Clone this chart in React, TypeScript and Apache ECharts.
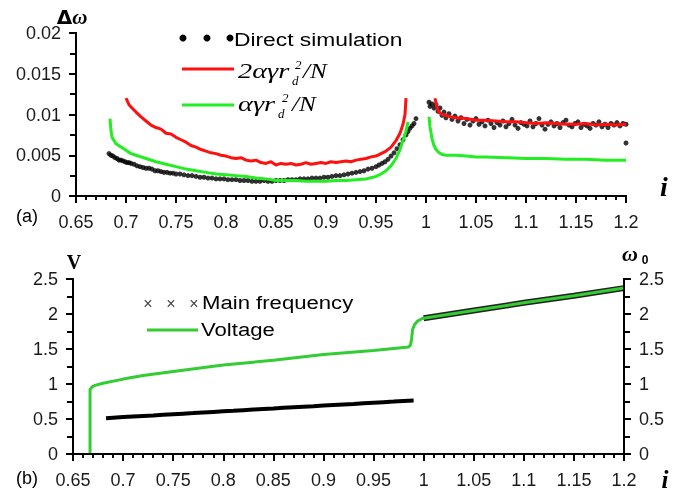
import React, { useEffect, useRef } from "react";
import * as echarts from "echarts";

// ---- Panel (a) data ----
const simLeft: [number, number][] = [
  [0.683, 0.0052], [0.685, 0.0050], [0.687, 0.0049], [0.689, 0.0047], [0.691, 0.0046], [0.693, 0.0044],
  [0.695, 0.0044], [0.697, 0.0043], [0.699, 0.0042], [0.701, 0.0041], [0.703, 0.0041], [0.705, 0.0040],
  [0.708, 0.0039], [0.711, 0.0037], [0.714, 0.0036], [0.717, 0.0035], [0.72, 0.0034], [0.723, 0.0034],
  [0.726, 0.0033], [0.729, 0.0031], [0.732, 0.0031], [0.735, 0.0030], [0.738, 0.0029], [0.741, 0.0029],
  [0.744, 0.0028], [0.747, 0.0028], [0.75, 0.0027], [0.754, 0.0027], [0.758, 0.0026], [0.762, 0.0025],
  [0.766, 0.0025], [0.77, 0.0024], [0.774, 0.0023], [0.778, 0.0023], [0.782, 0.0022], [0.786, 0.0022],
  [0.79, 0.0021], [0.794, 0.0021], [0.798, 0.0021], [0.802, 0.0020], [0.806, 0.0020], [0.81, 0.0020],
  [0.814, 0.0019], [0.818, 0.0019], [0.822, 0.0019], [0.826, 0.0018], [0.83, 0.0018], [0.834, 0.0018],
  [0.838, 0.0019], [0.842, 0.0018], [0.846, 0.0018], [0.85, 0.0019], [0.854, 0.0019], [0.858, 0.0019],
  [0.862, 0.0020], [0.866, 0.0020], [0.87, 0.0020], [0.874, 0.0021], [0.878, 0.0021], [0.882, 0.0021],
  [0.886, 0.0022], [0.89, 0.0022], [0.894, 0.0022], [0.898, 0.0023], [0.902, 0.0023], [0.906, 0.0024],
  [0.91, 0.0025], [0.914, 0.0025], [0.918, 0.0026], [0.922, 0.0027], [0.926, 0.0028], [0.93, 0.0029],
  [0.934, 0.0030], [0.938, 0.0031], [0.942, 0.0033], [0.946, 0.0034], [0.95, 0.0036], [0.953, 0.0038],
  [0.956, 0.0040], [0.959, 0.0042], [0.962, 0.0045], [0.965, 0.0049], [0.968, 0.0053], [0.971, 0.0058],
  [0.974, 0.0063], [0.977, 0.0069], [0.98, 0.0075], [0.982, 0.0079], [0.984, 0.0083], [0.986, 0.0086],
  [0.988, 0.0089], [0.99, 0.0095],
];
const simRight: [number, number][] = [
  [1.003, 0.0115], [1.004, 0.0110], [1.006, 0.0113], [1.008, 0.0108], [1.01, 0.0112], [1.012, 0.0104],
  [1.014, 0.0108], [1.016, 0.0099], [1.018, 0.0103], [1.02, 0.0096], [1.023, 0.0101], [1.026, 0.0094],
  [1.029, 0.0098], [1.032, 0.0092], [1.035, 0.0096], [1.038, 0.0089], [1.041, 0.0094], [1.044, 0.0087],
  [1.047, 0.0092], [1.05, 0.0095], [1.053, 0.0088], [1.056, 0.0091], [1.059, 0.0086], [1.062, 0.0093],
  [1.065, 0.0089], [1.068, 0.0084], [1.071, 0.0090], [1.074, 0.0087], [1.077, 0.0092], [1.08, 0.0085],
  [1.083, 0.0089], [1.086, 0.0094], [1.089, 0.0087], [1.092, 0.0083], [1.095, 0.0090], [1.098, 0.0088],
  [1.101, 0.0086], [1.104, 0.0092], [1.107, 0.0085], [1.11, 0.0089], [1.113, 0.0095], [1.116, 0.0087],
  [1.119, 0.0082], [1.122, 0.0088], [1.125, 0.0091], [1.128, 0.0086], [1.131, 0.0089], [1.134, 0.0084],
  [1.137, 0.0090], [1.14, 0.0093], [1.143, 0.0087], [1.146, 0.0085], [1.149, 0.0089], [1.152, 0.0091],
  [1.155, 0.0084], [1.158, 0.0088], [1.161, 0.0086], [1.164, 0.0083], [1.167, 0.0089], [1.17, 0.0087],
  [1.173, 0.0091], [1.176, 0.0085], [1.179, 0.0088], [1.182, 0.0084], [1.185, 0.0089], [1.188, 0.0087],
  [1.191, 0.0090], [1.194, 0.0086], [1.197, 0.0089], [1.2, 0.0088], [1.2, 0.0065],
];
const redLeft: [number, number][] = [
  [0.7, 0.0120], [0.703, 0.0112], [0.706, 0.0108], [0.71, 0.0103], [0.715, 0.0097], [0.72, 0.0092],
  [0.725, 0.0087], [0.73, 0.0084], [0.735, 0.0082], [0.74, 0.0077], [0.745, 0.0076], [0.75, 0.0072],
  [0.755, 0.0069], [0.76, 0.0066], [0.765, 0.0062], [0.77, 0.0060], [0.775, 0.0057], [0.78, 0.0055],
  [0.785, 0.0053], [0.79, 0.0052], [0.795, 0.0050], [0.8, 0.0049], [0.805, 0.0047], [0.81, 0.0046],
  [0.815, 0.0047], [0.82, 0.0044], [0.825, 0.0043], [0.83, 0.0044], [0.835, 0.0041], [0.84, 0.0040],
  [0.845, 0.0042], [0.85, 0.0038], [0.855, 0.0040], [0.86, 0.0039], [0.865, 0.0040], [0.87, 0.0038],
  [0.875, 0.0039], [0.88, 0.0041], [0.885, 0.0039], [0.89, 0.0040], [0.895, 0.0041], [0.9, 0.0040],
  [0.905, 0.0042], [0.91, 0.0041], [0.915, 0.0042], [0.92, 0.0043], [0.925, 0.0042], [0.93, 0.0044],
  [0.935, 0.0045], [0.94, 0.0046], [0.945, 0.0048], [0.95, 0.0049], [0.955, 0.0052], [0.96, 0.0055],
  [0.965, 0.0060], [0.97, 0.0068], [0.974, 0.0077], [0.977, 0.0088], [0.979, 0.0100], [0.98, 0.0120],
];
const redRight: [number, number][] = [
  [1.009, 0.0120], [1.011, 0.0108], [1.013, 0.0103], [1.016, 0.0100], [1.02, 0.0099], [1.025, 0.0097],
  [1.03, 0.0096], [1.04, 0.0095], [1.05, 0.0093], [1.06, 0.0093], [1.07, 0.0092], [1.08, 0.0091],
  [1.09, 0.0091], [1.1, 0.0090], [1.11, 0.0089], [1.12, 0.0090], [1.13, 0.0089], [1.14, 0.0088],
  [1.15, 0.0088], [1.16, 0.0089], [1.17, 0.0087], [1.18, 0.0088], [1.19, 0.0087], [1.2, 0.0088],
];
const greenLeft: [number, number][] = [
  [0.684, 0.0095], [0.685, 0.0080], [0.686, 0.0072], [0.688, 0.0068], [0.69, 0.0064], [0.695, 0.0060],
  [0.7, 0.0056], [0.705, 0.0052], [0.71, 0.0050], [0.715, 0.0048], [0.72, 0.0046], [0.73, 0.0042],
  [0.74, 0.0039], [0.75, 0.0036], [0.76, 0.0033], [0.77, 0.0031], [0.78, 0.0029], [0.79, 0.0027],
  [0.8, 0.0026], [0.81, 0.0025], [0.82, 0.0024], [0.83, 0.0022], [0.84, 0.0021], [0.85, 0.0019],
  [0.86, 0.0019], [0.87, 0.0019], [0.88, 0.0018], [0.89, 0.0018], [0.9, 0.0018], [0.91, 0.0019],
  [0.92, 0.0019], [0.93, 0.0020], [0.94, 0.0021], [0.95, 0.0024], [0.955, 0.0027], [0.96, 0.0031],
  [0.965, 0.0037], [0.97, 0.0046], [0.974, 0.0057], [0.977, 0.0068], [0.98, 0.0080], [0.982, 0.0091],
];
const greenRight: [number, number][] = [
  [1.003, 0.0097], [1.004, 0.0085], [1.006, 0.0070], [1.008, 0.0062], [1.01, 0.0057], [1.013, 0.0053],
  [1.016, 0.0051], [1.02, 0.0050], [1.03, 0.0050], [1.04, 0.0049], [1.05, 0.0048], [1.06, 0.0048],
  [1.08, 0.0047], [1.1, 0.0046], [1.12, 0.0046], [1.14, 0.0045], [1.16, 0.0045], [1.18, 0.0044],
  [1.2, 0.0044],
];

// ---- Panel (b) data ----
const voltage: [number, number][] = [
  [0.667, 0], [0.667, 0.92], [0.669, 0.96], [0.672, 0.98], [0.68, 1.01], [0.7, 1.07], [0.72, 1.12],
  [0.75, 1.18], [0.8, 1.27], [0.85, 1.34], [0.9, 1.42], [0.95, 1.48], [0.985, 1.53], [0.987, 1.56],
  [0.988, 1.65], [0.989, 1.78], [0.991, 1.85], [0.994, 1.9], [0.998, 1.93], [1.0, 1.94], [1.05, 2.05],
  [1.1, 2.16], [1.15, 2.26], [1.2, 2.37],
];
const freqLeft: [number, number][] = [
  [0.683, 0.51], [0.69, 0.518], [0.7, 0.527], [0.71, 0.535], [0.72, 0.543], [0.73, 0.551], [0.74, 0.56],
  [0.75, 0.568], [0.76, 0.576], [0.77, 0.584], [0.78, 0.593], [0.79, 0.601], [0.8, 0.609], [0.81, 0.617],
  [0.82, 0.626], [0.83, 0.634], [0.84, 0.642], [0.85, 0.65], [0.86, 0.659], [0.87, 0.667], [0.88, 0.675],
  [0.89, 0.683], [0.9, 0.692], [0.91, 0.7], [0.92, 0.708], [0.93, 0.716], [0.94, 0.725], [0.95, 0.733],
  [0.96, 0.741], [0.97, 0.749], [0.98, 0.758], [0.99, 0.766],
];
const freqRight: [number, number][] = [
  [1.0, 1.94], [1.05, 2.05], [1.1, 2.16], [1.15, 2.26], [1.2, 2.37],
];

// ---- tick values ----
const xTickVals = [0.65, 0.7, 0.75, 0.8, 0.85, 0.9, 0.95, 1, 1.05, 1.1, 1.15, 1.2];
const yTickValsA = [0, 0.005, 0.01, 0.015, 0.02];
const yTickValsB = [0, 0.5, 1, 1.5, 2, 2.5];

const GRID_A = { left: 76, top: 33, width: 550, height: 163 };
const GRID_B = { left: 73, top: 279, width: 551, height: 175 };

const LABEL_FONT = "Liberation Sans";

function xAxisCfg(gridIndex: number) {
  return {
    type: "value",
    gridIndex,
    z: 10,
    min: xTickVals[0],
    max: xTickVals[xTickVals.length - 1],
    interval: 0.05,
    axisLine: { show: true, onZero: false, lineStyle: { color: "#000", width: 2 } },
    axisTick: { show: true, inside: false, length: 7, lineStyle: { color: "#000", width: 2 } },
    minorTick: { show: true, splitNumber: 5, length: 4, lineStyle: { color: "#000", width: 1.5 } },
    splitLine: { show: false },
    axisLabel: { margin: 17, fontSize: 18, fontFamily: LABEL_FONT, color: "#1a1a1a" },
  };
}

function yAxisCfg(gridIndex: number, ticks: number[], position: string) {
  return {
    type: "value",
    gridIndex,
    position,
    z: 10,
    min: ticks[0],
    max: ticks[ticks.length - 1],
    interval: ticks[1] - ticks[0],
    axisLine: { show: true, onZero: false, lineStyle: { color: "#000", width: 2 } },
    axisTick: { show: true, inside: false, length: 7, lineStyle: { color: "#000", width: 2 } },
    minorTick: { show: true, splitNumber: 2, length: 6, lineStyle: { color: "#000", width: 2 } },
    splitLine: { show: false },
    axisLabel: { margin: 15, fontSize: 18, fontFamily: LABEL_FONT, color: "#1a1a1a" },
  };
}

// Axis frame and ticks as segments in data space (drawn through the axes' own scales)
function frameSegments(ys: number[], grid: { width: number; height: number }, right: boolean) {
  const xmin = xTickVals[0];
  const xmax = xTickVals[xTickVals.length - 1];
  const ymin = ys[0];
  const ymax = ys[ys.length - 1];
  const dx = (xmax - xmin) / grid.width;
  const dy = (ymax - ymin) / grid.height;
  const segs: any[] = [];
  const S = (x1: number, y1: number, x2: number, y2: number, w: number) =>
    segs.push({ coords: [[x1, y1], [x2, y2]], lineStyle: { width: w, color: "#000" } });
  S(xmin - dx, ymin, xmax + dx, ymin, 2);
  S(xmin, ymin, xmin, ymax + dy, 2);
  if (right) S(xmax, ymin, xmax, ymax + dy, 2);
  xTickVals.forEach((v, i) => {
    S(v, ymin, v, ymin - 7 * dy, 2);
    if (i < xTickVals.length - 1) {
      const step = (xTickVals[i + 1] - v) / 5;
      for (let k = 1; k < 5; k++) S(v + k * step, ymin, v + k * step, ymin - 4 * dy, 1.5);
    }
  });
  ys.forEach((v, i) => {
    S(xmin - 7 * dx, v, xmin, v, 2);
    if (right) S(xmax, v, xmax + 7 * dx, v, 2);
    if (i < ys.length - 1) {
      const m = (v + ys[i + 1]) / 2;
      S(xmin - 6 * dx, m, xmin, m, 2);
      if (right) S(xmax, m, xmax + 6 * dx, m, 2);
    }
  });
  return segs;
}

function txt(text: string, x: number, y: number, font: string, opts: any = {}) {
  return {
    type: "text",
    x,
    y,
    scaleX: opts.scaleX ?? 1,
    style: {
      text,
      font,
      fill: opts.fill ?? "#000",
      textAlign: opts.align ?? "left",
      textVerticalAlign: "middle",
    },
  };
}

export default function App() {
  const ref = useRef<HTMLDivElement>(null);
  useEffect(() => {
    if (!ref.current) return;
    const chart = echarts.init(ref.current, null, { renderer: "svg" });
    const serifB = "bold 20px 'Liberation Serif', 'DejaVu Serif', serif";
    const mathF = "italic 21px 'Liberation Serif', 'DejaVu Serif', serif";
    const mathS = "italic 13px 'Liberation Serif', 'DejaVu Serif', serif";
    const legF = "19px 'Liberation Sans', Arial, sans-serif";
    const legF2 = "18px 'Liberation Sans', Arial, sans-serif";

    const graphics: any[] = [
      {
        type: "text",
        x: 72,
        y: 17,
        style: {
          text: "{a|Δ}{b|ω}",
          textAlign: "center",
          textVerticalAlign: "middle",
          rich: {
            a: { font: "bold 20px 'DejaVu Sans', sans-serif", fill: "#000" },
            b: { font: "bold italic 21px 'Liberation Serif', serif", fill: "#000" },
          },
        },
      },
      txt("i", 664, 186, "bold italic 28px 'Liberation Serif', serif", { align: "center" }),
      txt("(a)", 27, 216, "18px 'Liberation Sans', Arial, sans-serif", { align: "center" }),
      { type: "circle", shape: { cx: 183, cy: 38, r: 3.5 }, style: { fill: "#000" } },
      { type: "circle", shape: { cx: 207, cy: 38, r: 3.5 }, style: { fill: "#000" } },
      { type: "circle", shape: { cx: 230, cy: 38, r: 3.5 }, style: { fill: "#000" } },
      txt("Direct simulation", 234, 39, legF, { scaleX: 1.2 }),
      { type: "line", shape: { x1: 182, y1: 69, x2: 234, y2: 69 }, style: { stroke: "#ff1010", lineWidth: 3 } },
      txt("2αγr", 238, 71, mathF, { scaleX: 1.35 }),
      txt("d", 292, 80, mathS),
      txt("2", 295, 64, mathS),
      txt("/N", 303, 71, mathF, { scaleX: 1.2 }),
      { type: "line", shape: { x1: 182, y1: 105, x2: 234, y2: 105 }, style: { stroke: "#22ee22", lineWidth: 3 } },
      txt("αγr", 238, 104, mathF, { scaleX: 1.35 }),
      txt("d", 278, 113, mathS),
      txt("2", 282, 97, mathS),
      txt("/N", 292, 104, mathF, { scaleX: 1.2 }),
      txt("V", 74, 262, serifB, { align: "center" }),
      txt("ω", 630, 253, "bold italic 22px 'Liberation Serif', serif", { align: "center" }),
      txt("0", 645, 260, "bold 12px 'Liberation Sans', Arial, sans-serif", { align: "center" }),
      txt("i", 665, 479, "bold italic 25px 'Liberation Serif', serif", { align: "center" }),
      txt("(b)", 27, 478, "18px 'Liberation Sans', Arial, sans-serif", { align: "center" }),
      txt("×", 148, 303, "16px 'Liberation Sans', Arial, sans-serif", { fill: "#444", align: "center" }),
      txt("×", 171, 303, "16px 'Liberation Sans', Arial, sans-serif", { fill: "#444", align: "center" }),
      txt("×", 194, 303, "16px 'Liberation Sans', Arial, sans-serif", { fill: "#444", align: "center" }),
      txt("Main frequency", 202, 303, legF2, { scaleX: 1.23 }),
      { type: "line", shape: { x1: 147, y1: 330, x2: 198, y2: 330 }, style: { stroke: "#33cc33", lineWidth: 3 } },
      txt("Voltage", 201, 330, legF2, { scaleX: 1.23 }),
    ];

    const option: any = {
      animation: false,
      grid: [GRID_A, GRID_B],
      xAxis: [xAxisCfg(0), xAxisCfg(1)],
      yAxis: [
        yAxisCfg(0, yTickValsA, "left"),
        yAxisCfg(1, yTickValsB, "left"),
        yAxisCfg(1, yTickValsB, "right"),
      ],
      series: [
        {
          name: "Direct simulation",
          type: "scatter",
          xAxisIndex: 0,
          yAxisIndex: 0,
          data: [...simLeft, ...simRight],
          symbol: "circle",
          symbolSize: 5,
          itemStyle: { color: "#000" },
        },
        ...[redLeft, redRight].map((d) => ({
          type: "line",
          xAxisIndex: 0,
          yAxisIndex: 0,
          data: d,
          showSymbol: false,
          lineStyle: { color: "#ff1010", width: 3 },
        })),
        ...[greenLeft, greenRight].map((d) => ({
          type: "line",
          xAxisIndex: 0,
          yAxisIndex: 0,
          data: d,
          showSymbol: false,
          lineStyle: { color: "#22ee22", width: 3 },
        })),
        {
          name: "Main frequency",
          type: "line",
          xAxisIndex: 1,
          yAxisIndex: 2,
          data: freqRight,
          showSymbol: false,
          lineStyle: { color: "#222", width: 6 },
        },
        {
          name: "Voltage",
          type: "line",
          xAxisIndex: 1,
          yAxisIndex: 1,
          data: voltage,
          showSymbol: false,
          lineStyle: { color: "#33cc33", width: 3 },
        },
        {
          name: "Main frequency",
          type: "line",
          xAxisIndex: 1,
          yAxisIndex: 2,
          data: freqLeft,
          showSymbol: false,
          lineStyle: { color: "#000", width: 4 },
        },
        {
          type: "lines",
          coordinateSystem: "cartesian2d",
          xAxisIndex: 0,
          yAxisIndex: 0,
          clip: false,
          silent: true,
          z: 10,
          lineStyle: { color: "#000", width: 2, opacity: 1 },
          data: frameSegments(yTickValsA, GRID_A, false),
        },
        {
          type: "lines",
          coordinateSystem: "cartesian2d",
          xAxisIndex: 1,
          yAxisIndex: 1,
          clip: false,
          silent: true,
          z: 10,
          lineStyle: { color: "#000", width: 2, opacity: 1 },
          data: frameSegments(yTickValsB, GRID_B, true),
        },
      ],
      graphic: graphics,
    };
    chart.setOption(option);
    return () => chart.dispose();
  }, []);
  return <div ref={ref} style={{ position: "fixed", left: 0, top: 0, width: 685, height: 495 }} />;
}
